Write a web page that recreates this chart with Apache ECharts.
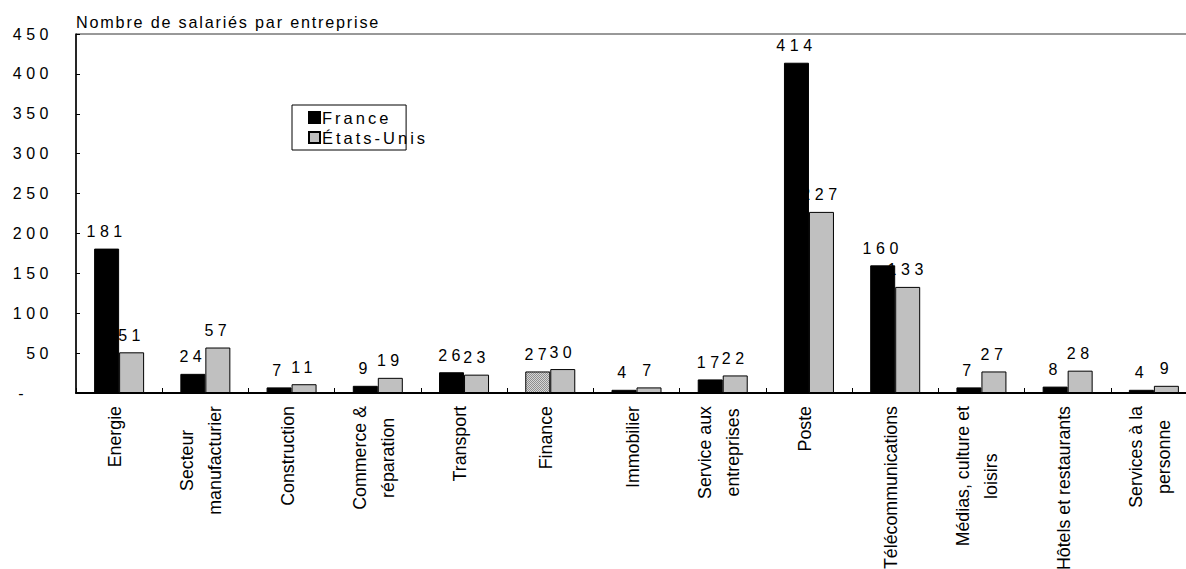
<!DOCTYPE html>
<html lang="fr">
<head>
<meta charset="utf-8">
<title>Nombre de salariés par entreprise</title>
<script src="https://cdn.jsdelivr.net/npm/echarts@6/dist/echarts.min.js"></script>
<style>
  html, body { margin: 0; padding: 0; background: #fff; }
  #chart { width: 1186px; height: 569px; }
  /* tracking of the different text groups (selected by font size) */
  #chart text[style*="16px"] { letter-spacing: 4.5px; }
  #chart text[style*="16.2px"] { letter-spacing: 1.8px; }
  #chart text[style*="16.5px"] { letter-spacing: 3px; }
</style>
</head>
<body>
<div id="chart"></div>
<script>
// Sectors shown on the category axis
const categories = [
  'Energie',
  'Secteur\nmanufacturier',
  'Construction',
  'Commerce &\nréparation',
  'Transport',
  'Finance',
  'Immobilier',
  'Service aux\nentreprises',
  'Poste',
  'Télécommunications',
  'Médias, culture et\nloisirs',
  'Hôtels et restaurants',
  'Services à la\npersonne'
];

// Average number of employees per firm
const france = [181, 24, 7, 9, 26, 27, 4, 17, 414, 160, 7, 8, 4];
const etatsUnis = [51, 57, 11, 19, 23, 30, 7, 22, 227, 133, 27, 28, 9];

const seriesNames = ['France', 'États-Unis'];
const yTicks = { min: 0, max: 450, interval: 50 };
const axisTitle = 'Nombre de salariés par entreprise';
const hatchedFrance = 'Finance';

const FONT = "'Liberation Sans', Arial, Helvetica, sans-serif";
const CAT_FONT_SIZE = 17.8;

// fine grey dither used for the hatched bar
function makeHatch() {
  const c = document.createElement('canvas');
  c.width = 4; c.height = 4;
  const g = c.getContext('2d');
  g.fillStyle = '#d6d6d6';
  g.fillRect(0, 0, 4, 4);
  g.fillStyle = '#8e8e8e';
  for (let y = 0; y < 4; y++) {
    for (let x = 0; x < 4; x++) {
      if ((x + y) % 2 === 0) g.fillRect(x, y, 1, 1);
    }
  }
  return c;
}
const hatch = { image: makeHatch(), repeat: 'repeat', imageWidth: 4, imageHeight: 4 };

const hatchIdx = categories.indexOf(hatchedFrance);
const franceData = france.map((v, i) =>
  i === hatchIdx ? { value: v, itemStyle: { color: hatch } } : v
);

const valueLabel = {
  show: true,
  position: 'top',
  distance: 9,
  color: '#000',
  fontFamily: FONT,
  fontSize: 16
};

const chart = echarts.init(document.getElementById('chart'), null, { renderer: 'svg' });

chart.setOption({
  animation: false,
  backgroundColor: '#fff',
  textStyle: { fontFamily: FONT, color: '#000' },
  grid: {
    left: 76,
    top: 34,
    width: 1121,
    height: 359,
    containLabel: false,
    outerBoundsMode: 'none',
    show: true,
    borderColor: '#333',
    borderWidth: 1,
    backgroundColor: 'transparent'
  },
  legend: {
    orient: 'vertical',
    left: 292,
    top: 105,
    selectedMode: false,
    data: seriesNames,
    icon: 'rect',
    itemWidth: 11,
    itemHeight: 11,
    itemGap: 3,
    padding: [4, 8, 4, 16],
    borderColor: '#000',
    borderWidth: 1,
    backgroundColor: '#fff',
    textStyle: { fontFamily: FONT, fontSize: 16.5, color: '#000', width: 102, padding: [0, 0, 0, -3] }
  },
  xAxis: {
    type: 'category',
    data: categories,
    axisLine: { show: true, lineStyle: { color: '#000', width: 2 } },
    axisTick: { show: true, inside: true, length: 5, lineStyle: { color: '#000', width: 1 } },
    axisLabel: {
      interval: 0,
      rotate: 90,
      margin: 13,
      color: '#000',
      fontFamily: FONT,
      fontSize: CAT_FONT_SIZE,
      lineHeight: 28,
      padding: [0, 0, 8, 0],
      formatter: (v) => v.split('\n').map((s) => '{c|' + s + '}').join('\n'),
      rich: {
        c: { align: 'center', fontFamily: FONT, fontSize: CAT_FONT_SIZE, lineHeight: 28, color: '#000' }
      }
    },
    splitLine: { show: false }
  },
  yAxis: {
    type: 'value',
    min: yTicks.min,
    max: yTicks.max,
    interval: yTicks.interval,
    name: axisTitle,
    nameLocation: 'end',
    nameGap: 12,
    nameTextStyle: {
      align: 'left',
      verticalAlign: 'middle',
      fontFamily: FONT,
      fontSize: 16.2,
      color: '#000'
    },
    axisLine: { show: true, lineStyle: { color: '#000', width: 1.5 } },
    axisTick: { show: true, inside: true, length: 4, lineStyle: { color: '#000', width: 1 } },
    axisLabel: {
      margin: 23,
      color: '#000',
      fontFamily: FONT,
      fontSize: 16,
      formatter: (v) => (v === 0 ? '{d|-}' : String(v)),
      rich: {
        d: { fontFamily: FONT, fontSize: 16, color: '#000', padding: [0, 25, 0, 0] }
      }
    },
    splitLine: { show: false }
  },
  series: [
    {
      name: seriesNames[0],
      type: 'bar',
      data: franceData,
      barWidth: 25,
      barGap: '0%',
      itemStyle: { color: '#000', borderColor: '#000', borderWidth: 1 },
      label: valueLabel
    },
    {
      name: seriesNames[1],
      type: 'bar',
      data: etatsUnis,
      barWidth: 25,
      barGap: '0%',
      itemStyle: { color: '#c0c0c0', borderColor: '#000', borderWidth: 1 },
      label: valueLabel
    }
  ]
});
</script>
</body>
</html>
